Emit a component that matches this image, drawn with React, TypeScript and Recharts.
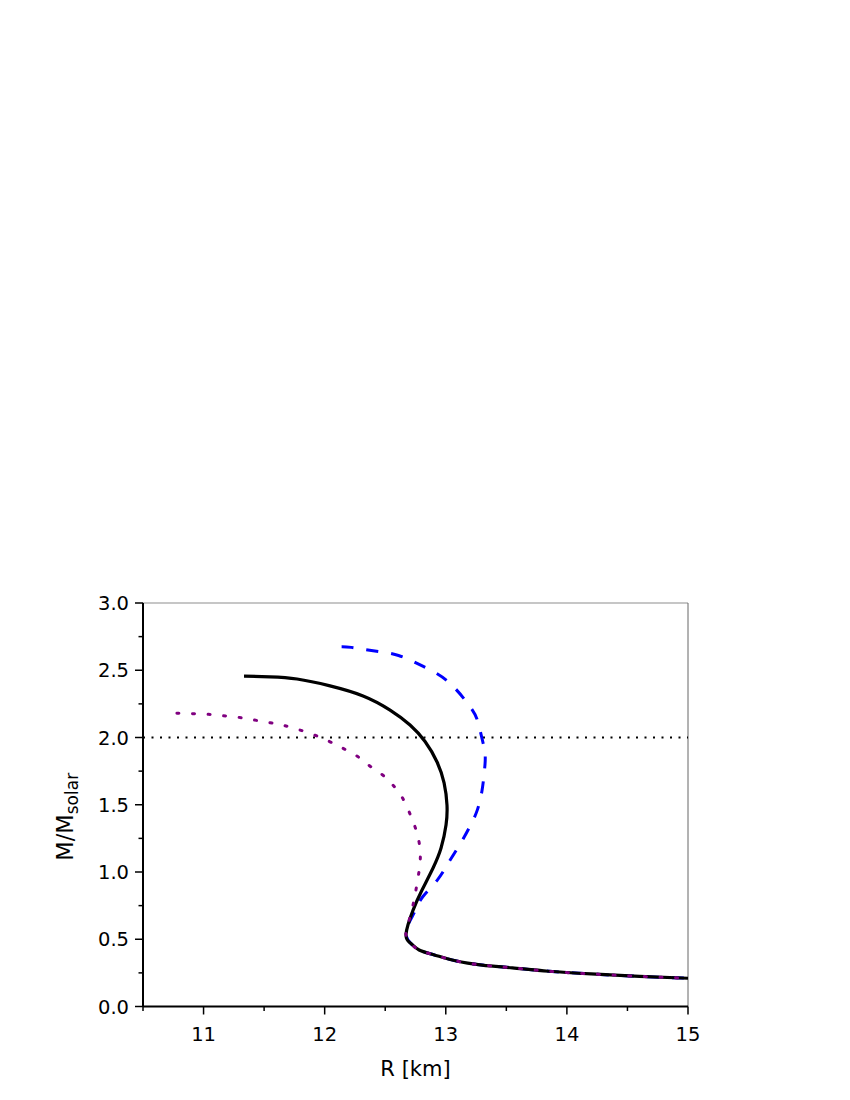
import { LineChart, Line, XAxis, YAxis, ReferenceLine, Label } from "recharts";

// ── Data ──────────────────────────────────────────────────────────────────────

const X_TICKS = [10.5, 11, 11.5, 12, 12.5, 13, 13.5, 14, 14.5, 15];
const Y_TICKS = [0, 0.25, 0.5, 0.75, 1, 1.25, 1.5, 1.75, 2, 2.25, 2.5, 2.75, 3];

// shared low-mass branch
const TAIL_R = [12.71, 12.78, 12.9, 13.08, 13.3, 13.55, 13.85, 14.2, 14.6, 15.0];
const TAIL_M = [0.47, 0.42, 0.385, 0.34, 0.308, 0.287, 0.262, 0.242, 0.224, 0.21];

// solid black
const SOLID_R = [
  11.334, 11.549, 11.772, 12.044, 12.317, 12.54, 12.705, 12.829, 12.928, 12.986,
  13.01, 13.002, 12.961, 12.895, 12.804, 12.73, 12.672,
];
const SOLID_M = [
  2.457, 2.451, 2.435, 2.384, 2.309, 2.204, 2.093, 1.97, 1.818, 1.662, 1.498,
  1.349, 1.178, 1.03, 0.866, 0.717, 0.539,
];

// purple dotted
const DOTTED_R = [
  10.78, 10.91, 11.04, 11.16, 11.29, 11.42, 11.55, 11.66, 11.78, 11.91, 12.04,
  12.15, 12.27, 12.37, 12.48, 12.56, 12.64, 12.71, 12.75, 12.78, 12.79, 12.78,
  12.76, 12.74, 12.72, 12.69, 12.67,
];
const DOTTED_M = [
  2.18, 2.177, 2.172, 2.162, 2.15, 2.13, 2.11, 2.09, 2.06, 2.02, 1.97, 1.92,
  1.86, 1.79, 1.72, 1.65, 1.555, 1.42, 1.325, 1.22, 1.11, 1.01, 0.9, 0.8, 0.72,
  0.62, 0.54,
];

// blue dashed
const DASHED_R = [
  12.14, 12.22, 12.4, 12.61, 12.81, 13.02, 13.2, 13.26, 13.3, 13.325, 13.32,
  13.3, 13.26, 13.2, 13.12, 13.02, 12.93, 12.81, 12.75, 12.7, 12.67,
];
const DASHED_M = [
  2.675, 2.67, 2.645, 2.61, 2.53, 2.415, 2.23, 2.13, 1.99, 1.87, 1.76, 1.61,
  1.46, 1.34, 1.21, 1.065, 0.94, 0.816, 0.717, 0.63, 0.54,
];

const zip = (rs: number[], ms: number[]) =>
  rs.map((r, i) => ({ r, m: ms[i] })).concat(TAIL_R.map((r, i) => ({ r, m: TAIL_M[i] })));

const solid = zip(SOLID_R, SOLID_M);
const dotted = zip(DOTTED_R, DOTTED_M);
const dashed = zip(DASHED_R, DASHED_M);

const FONT = "'DejaVu Sans', sans-serif";

// ── Ticks ─────────────────────────────────────────────────────────────────────

function XTick({ x, y, payload }: any) {
  const major = Number.isInteger(payload.value);
  return (
    <g>
      <line x1={x} x2={x} y1={y} y2={y + (major ? 8 : 4.5)} stroke="#000" strokeWidth={1.5} />
      {major && (
        <text x={x} y={y + 34} textAnchor="middle" fontSize={19.5} fontFamily={FONT} fill="#000">
          {payload.value}
        </text>
      )}
    </g>
  );
}

function YTick({ x, y, payload }: any) {
  const major = Math.abs(payload.value * 2 - Math.round(payload.value * 2)) < 1e-6;
  return (
    <g>
      <line x1={x - (major ? 8 : 4.5)} x2={x} y1={y} y2={y} stroke="#000" strokeWidth={1.5} />
      {major && (
        <text x={x - 14} y={y + 7} textAnchor="end" fontSize={19.5} fontFamily={FONT} fill="#000">
          {payload.value.toFixed(1)}
        </text>
      )}
    </g>
  );
}

// ── Chart ─────────────────────────────────────────────────────────────────────

export default function App() {
  return (
    <div style={{ width: 800, height: 1090 }}>
      <LineChart width={800} height={1090} margin={{ top: 595, right: 120, bottom: 31.5, left: 60 }}>
        <XAxis
          type="number"
          dataKey="r"
          domain={[10.5, 15]}
          ticks={X_TICKS}
          allowDataOverflow
          height={60}
          tickSize={0}
          tickMargin={0}
          tickLine={false}
          tick={<XTick />}
          axisLine={{ stroke: "#000", strokeWidth: 2 }}
        >
          <Label
            content={({ viewBox }: any) => (
              <text
                x={viewBox.x + viewBox.width / 2}
                y={viewBox.y + 69.5}
                textAnchor="middle"
                fontSize={21}
                fontFamily={FONT}
                fill="#000"
              >
                R [km]
              </text>
            )}
          />
        </XAxis>
        <YAxis
          type="number"
          dataKey="m"
          domain={[0, 3]}
          ticks={Y_TICKS}
          allowDataOverflow
          width={75}
          tickSize={0}
          tickMargin={0}
          tickLine={false}
          tick={<YTick />}
          axisLine={{ stroke: "#000", strokeWidth: 2 }}
        >
          <Label
            content={({ viewBox }: any) => {
              const cx = viewBox.x + viewBox.width - 70;
              const cy = viewBox.y + viewBox.height / 2 + 12;
              return (
                <text
                  x={cx}
                  y={cy}
                  transform={`rotate(-90 ${cx} ${cy})`}
                  textAnchor="middle"
                  fontSize={22.5}
                  fontFamily={FONT}
                  fill="#000"
                >
                  M/M
                  <tspan fontSize={17} dy={5}>
                    solar
                  </tspan>
                </text>
              );
            }}
          />
        </YAxis>

        <ReferenceLine y={3} stroke="#b3b3b3" strokeWidth={1.3} />
        <ReferenceLine x={15} stroke="#666" strokeWidth={1} />
        <ReferenceLine y={2} stroke="#000" strokeWidth={1.8} strokeDasharray="2 6.5" />

        <Line
          data={dashed}
          dataKey="m"
          type="natural"
          stroke="#0000ff"
          strokeWidth={3}
          strokeDasharray="12 13"
          dot={false}
          isAnimationActive={false}
        />
        <Line
          data={solid}
          dataKey="m"
          type="natural"
          stroke="#000"
          strokeWidth={3.2}
          dot={false}
          isAnimationActive={false}
        />
        <Line
          data={dotted}
          dataKey="m"
          type="natural"
          stroke="#800080"
          strokeWidth={3}
          strokeLinecap="round"
          strokeDasharray="2 13.6"
          dot={false}
          isAnimationActive={false}
        />
      </LineChart>
    </div>
  );
}
